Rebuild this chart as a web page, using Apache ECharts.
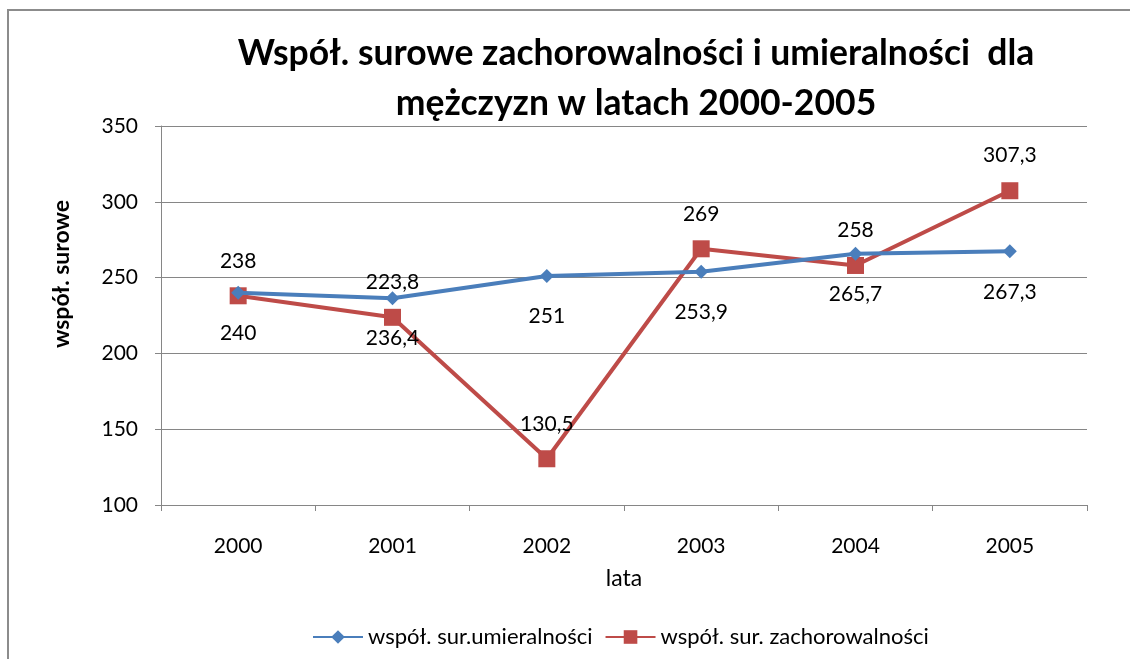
<!DOCTYPE html>
<html>
<head>
<meta charset="utf-8">
<script src="https://cdn.jsdelivr.net/npm/echarts@6/dist/echarts.min.js"></script>
<style>
html,body{margin:0;padding:0;background:#fff;}
#chart{width:1130px;height:659px;}
</style>
</head>
<body>
<div id="chart"></div>
<script>
var categories = ['2000', '2001', '2002', '2003', '2004', '2005'];
var umieralnosci = [240, 236.4, 251, 253.9, 265.7, 267.3];
var zachorowalnosci = [238, 223.8, 130.5, 269, 258, 307.3];
var seriesNames = ['współ. sur.umieralności', 'współ. sur. zachorowalności'];
var yTicks = [100, 150, 200, 250, 300, 350];

var FONT = 'Lato, "Open Sans", sans-serif';
function fmt(p) { return String(p.value).replace('.', ','); }

var chart = echarts.init(document.getElementById('chart'), null, {renderer: 'canvas'});
chart.setOption({
  animation: false,
  backgroundColor: '#ffffff',
  title: {
    text: 'Współ. surowe zachorowalności i umieralności  dla\nmężczyzn w latach 2000-2005',
    left: 631,
    textAlign: 'center',
    top: 24,
    textStyle: {fontFamily: FONT, fontWeight: 'bold', fontSize: 35.5, lineHeight: 50, color: '#000'}
  },
  graphic: [
    {type: 'rect', shape: {x: 8, y: 10, width: 1140, height: 700}, style: {fill: 'none', stroke: '#8c8c8c', lineWidth: 2}, silent: true},
    {type: 'text', x: 62, y: 274, rotation: Math.PI / 2,
     style: {text: 'współ. surowe', fontFamily: FONT, fontWeight: 'bold', fontSize: 23, fill: '#000', align: 'center', verticalAlign: 'middle'}}
  ],
  legend: {
    bottom: 6,
    left: 307,
    itemWidth: 50,
    itemHeight: 17,
    itemGap: 12,
    textStyle: {fontFamily: FONT, fontSize: 22, color: '#000'},
    data: seriesNames
  },
  grid: {left: 161, right: 43, top: 126, bottom: 154},
  xAxis: {
    type: 'category',
    data: categories,
    boundaryGap: true,
    name: 'lata',
    nameLocation: 'middle',
    nameGap: 62,
    nameTextStyle: {fontFamily: FONT, fontSize: 23, color: '#000'},
    axisLine: {lineStyle: {color: '#868686', width: 1}},
    axisTick: {show: true, length: 6, lineStyle: {color: '#868686'}},
    axisLabel: {fontFamily: FONT, fontSize: 21, color: '#000', margin: 31}
  },
  yAxis: {
    type: 'value',
    min: yTicks[0],
    max: yTicks[yTicks.length - 1],
    interval: yTicks[1] - yTicks[0],
    axisLine: {show: true, lineStyle: {color: '#868686', width: 1}},
    axisTick: {show: true, length: 6, lineStyle: {color: '#868686'}},
    axisLabel: {fontFamily: FONT, fontSize: 21, color: '#000', margin: 23},
    splitLine: {lineStyle: {color: '#868686', width: 1}}
  },
  series: [
    {
      name: seriesNames[0],
      type: 'line',
      data: umieralnosci,
      symbol: 'diamond',
      symbolSize: 14,
      itemStyle: {color: '#4A7EBB'},
      lineStyle: {color: '#4A7EBB', width: 4},
      label: {show: true, position: 'bottom', distance: 23, formatter: fmt,
              fontFamily: FONT, fontSize: 21, color: '#000'},
      z: 3
    },
    {
      name: seriesNames[1],
      type: 'line',
      data: zachorowalnosci,
      symbol: 'rect',
      symbolSize: 17,
      itemStyle: {color: '#BE4B48'},
      lineStyle: {color: '#BE4B48', width: 4},
      label: {show: true, position: 'top', distance: 16, formatter: fmt,
              fontFamily: FONT, fontSize: 21, color: '#000'},
      z: 2
    }
  ]
});
</script>
</body>
</html>
